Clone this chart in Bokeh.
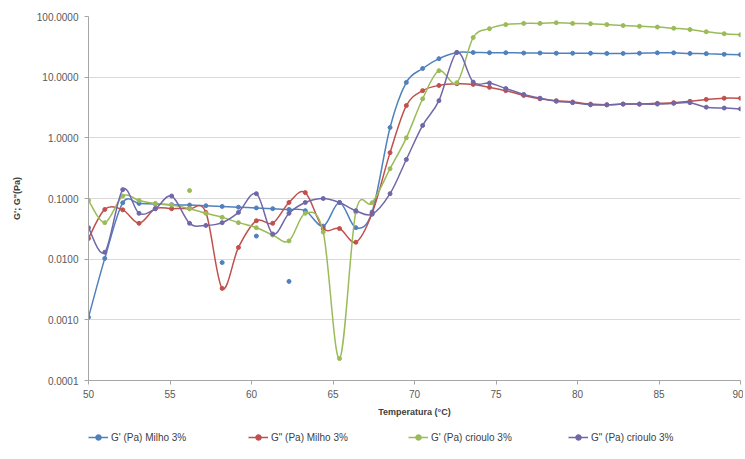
import math
from bokeh.plotting import figure
from bokeh.layouts import column
from bokeh.models import (FixedTicker, PrintfTickFormatter, Legend, LegendItem,
                          Range1d, ColumnDataSource)
from bokeh.embed import file_html
from bokeh.resources import INLINE

# ---------------- data ----------------
temperature = [50.0, 51.0, 52.1, 53.1, 54.1, 55.1, 56.2, 57.2, 58.2, 59.2,
               60.3, 61.3, 62.3, 63.3, 64.4, 65.4, 66.4, 67.4, 68.5, 69.5,
               70.5, 71.5, 72.6, 73.6, 74.6, 75.6, 76.7, 77.7, 78.7, 79.7,
               80.8, 81.8, 82.8, 83.8, 84.9, 85.9, 86.9, 87.9, 89.0, 90.0]

g1_milho = [0.0011, 0.0103, 0.085, 0.083, 0.081, 0.079, 0.078, 0.076, 0.074, 0.072,
            0.070, 0.068, 0.066, 0.063, 0.035, 0.086, 0.033, 0.060, 1.48, 8.2,
            13.9, 20.2, 25.5, 25.5, 25.3, 25.3, 25.0, 25.0, 24.8, 24.8,
            24.8, 24.6, 24.6, 24.8, 25.2, 25.2, 24.6, 24.4, 23.8, 23.5]

g2_milho = [0.022, 0.066, 0.065, 0.039, 0.068, 0.068, 0.068, 0.059, 0.0033, 0.0156,
            0.043, 0.039, 0.086, 0.125, 0.032, 0.032, 0.019, 0.057, 0.57, 3.4,
            6.0, 7.3, 7.8, 7.6, 6.8, 6.0, 5.0, 4.4, 4.1, 3.9,
            3.6, 3.5, 3.6, 3.6, 3.7, 3.8, 4.0, 4.3, 4.5, 4.5]

g1_crioulo = [0.093, 0.040, 0.11, 0.093, 0.083, 0.078, 0.068, 0.057, 0.049, 0.040,
              0.033, 0.025, 0.020, 0.057, 0.028, 0.00023, 0.060, 0.085, 0.31, 1.0,
              4.4, 12.8, 8.1, 45.0, 63.0, 73.5, 77.0, 77.0, 79.0, 77.0,
              76.0, 73.5, 71.0, 69.0, 67.0, 64.0, 61.0, 56.0, 52.0, 50.0]

g2_crioulo = [0.033, 0.013, 0.14, 0.057, 0.068, 0.11, 0.039, 0.036, 0.040, 0.059,
              0.12, 0.026, 0.057, 0.086, 0.10, 0.086, 0.063, 0.055, 0.12, 0.44,
              1.6, 4.1, 25.6, 8.3, 8.0, 6.5, 5.2, 4.5, 4.0, 3.8,
              3.5, 3.5, 3.6, 3.6, 3.6, 3.7, 3.8, 3.2, 3.1, 3.0]

# isolated points (markers only)
g1_milho_iso_t = [58.2, 60.3, 62.3]
g1_milho_iso_v = [0.0088, 0.024, 0.0043]
g1_crioulo_iso_t = [56.2]
g1_crioulo_iso_v = [0.135]

labels = ["G' (Pa) Milho 3%", 'G" (Pa) Milho 3%', "G' (Pa) crioulo 3%", 'G" (Pa) crioulo 3%']
colors = ["#4F81BD", "#C0504D", "#9BBB59", "#7067A8"]
x_ticks = [50, 55, 60, 65, 70, 75, 80, 85, 90]
y_ticks = [0.0001, 0.001, 0.01, 0.1, 1, 10, 100]

FONT = "Liberation Sans"

p = figure(frame_width=652, frame_height=364, x_range=Range1d(50, 90),
           y_range=Range1d(0.0001, 100),
           y_axis_type="log", output_backend="svg", toolbar_location=None,
           min_border_left=88, min_border_right=3, min_border_top=16, min_border_bottom=42)
p.outline_line_color = None
p.background_fill_color = "white"
p.xgrid.visible = False
p.ygrid.grid_line_color = "#d9d9d9"
p.ygrid.grid_line_width = 1

p.xaxis.ticker = FixedTicker(ticks=x_ticks, minor_ticks=[])
p.yaxis.ticker = FixedTicker(ticks=y_ticks, minor_ticks=[])
p.yaxis.formatter = PrintfTickFormatter(format="%.4f")
for ax in (p.xaxis, p.yaxis):
    ax.axis_line_color = "#a6a6a6"
    ax.major_tick_line_color = "#a6a6a6"
    ax.major_tick_out = 4
    ax.major_tick_in = 0
    ax.minor_tick_line_color = None
    ax.major_label_text_font = FONT
    ax.major_label_text_font_size = "10px"
    ax.major_label_text_color = "#595959"
    ax.axis_label_text_font = FONT
    ax.axis_label_text_font_size = "9px"
    ax.axis_label_text_font_style = "bold"
    ax.axis_label_text_color = "#404040"
p.xaxis.axis_label = "Temperatura (°C)"
p.yaxis.axis_label = 'G\'; G"(Pa)'
p.xaxis.major_label_standoff = 5
p.xaxis.axis_label_standoff = 6
p.yaxis.major_label_standoff = 6
p.yaxis.axis_label_standoff = 12


def smooth_segments(xs, ys):
    """Excel-like smoothed line: cubic Bezier control points (in log-y space)."""
    ly = [math.log10(v) for v in ys]
    n = len(xs)
    d = dict(x0=[], y0=[], x1=[], y1=[], cx0=[], cy0=[], cx1=[], cy1=[])
    for i in range(n - 1):
        im = max(i - 1, 0)
        ip2 = min(i + 2, n - 1)
        c0x = xs[i] + (xs[i + 1] - xs[im]) / 6.0
        c0y = ly[i] + (ly[i + 1] - ly[im]) / 6.0
        c1x = xs[i + 1] - (xs[ip2] - xs[i]) / 6.0
        c1y = ly[i + 1] - (ly[ip2] - ly[i]) / 6.0
        d["x0"].append(xs[i]); d["y0"].append(ys[i])
        d["x1"].append(xs[i + 1]); d["y1"].append(ys[i + 1])
        d["cx0"].append(c0x); d["cy0"].append(10 ** c0y)
        d["cx1"].append(c1x); d["cy1"].append(10 ** c1y)
    return ColumnDataSource(d)


series = [g1_milho, g2_milho, g1_crioulo, g2_crioulo]
for col, vals in zip(colors, series):
    src = smooth_segments(temperature, vals)
    p.bezier(x0="x0", y0="y0", x1="x1", y1="y1", cx0="cx0", cy0="cy0",
             cx1="cx1", cy1="cy1", source=src, line_color=col, line_width=1.5)
    p.scatter(temperature, vals, marker="circle", size=4, fill_color=col, line_color=col)

p.scatter(g1_milho_iso_t, g1_milho_iso_v, marker="circle", size=4,
          fill_color=colors[0], line_color=colors[0])
p.scatter(g1_crioulo_iso_t, g1_crioulo_iso_v, marker="circle", size=4,
          fill_color=colors[2], line_color=colors[2])

# ---------------- legend strip (separate small figure under the chart) ----------------
lf = figure(width=743, height=30, x_range=Range1d(0, 1), y_range=Range1d(0, 1),
            output_backend="svg", toolbar_location=None,
            x_axis_location=None, y_axis_location=None,
            min_border_left=0, min_border_right=0, min_border_top=0, min_border_bottom=0)
lf.outline_line_color = None
lf.xgrid.visible = False
lf.ygrid.visible = False
items = []
for lab, col, vals in zip(labels, colors, series):
    rl = lf.line(temperature, vals, line_color=col, line_width=1.5)
    rs = lf.scatter(temperature, vals, marker="circle", size=4, fill_color=col, line_color=col)
    items.append(LegendItem(label=lab, renderers=[rl, rs]))
legend = Legend(items=items, orientation="horizontal", location=(0, 5),
                padding=0, margin=0, spacing=47, label_width=90, glyph_width=20,
                glyph_height=14, label_height=20, label_standoff=3,
                border_line_color=None, background_fill_alpha=0,
                label_text_font=FONT, label_text_font_size="10px",
                label_text_color="#404040")
lf.add_layout(legend)

layout = column(p, lf, spacing=0)
open("out.html", "w").write(file_html(layout, INLINE))
